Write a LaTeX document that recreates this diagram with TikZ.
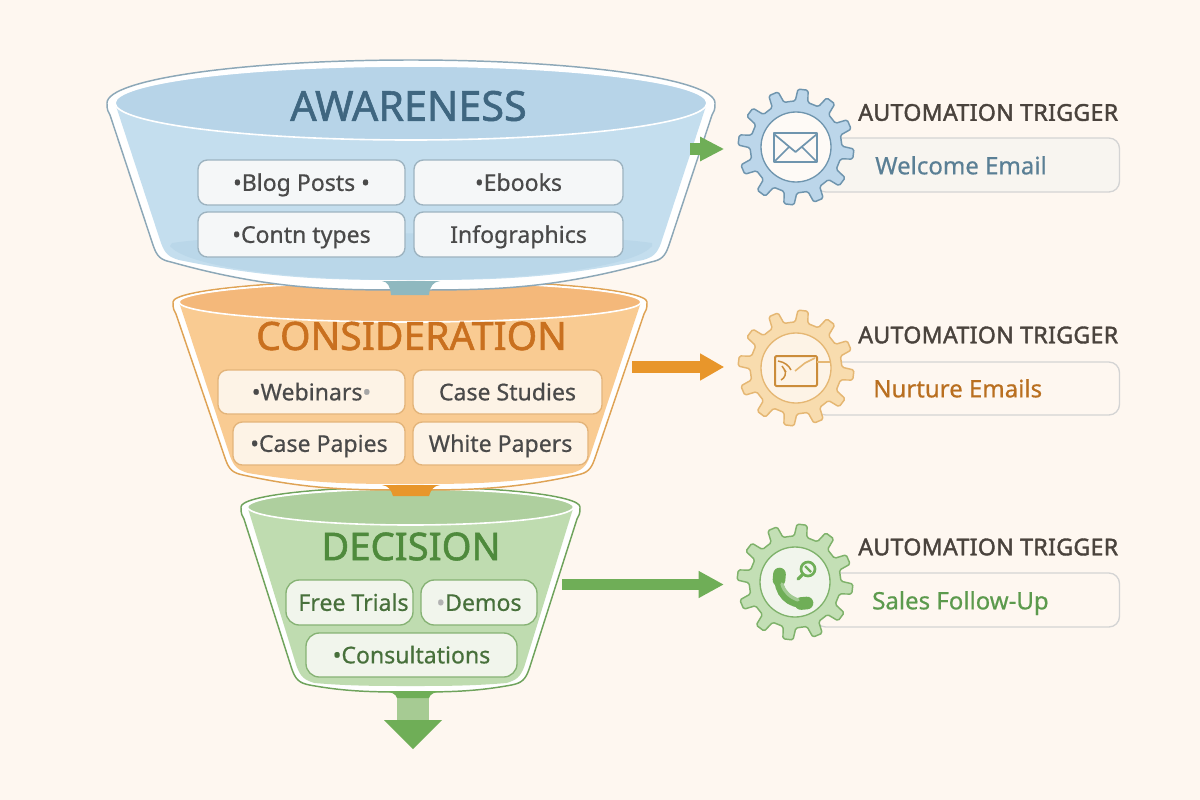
\documentclass[tikz,border=0pt]{standalone}
\usepackage{fontspec}
\setmainfont{Noto Sans}
\newfontfamily\semibold[FakeBold=1.6,LetterSpace=1.2]{Noto Sans}
\newfontfamily\titleface[FakeBold=1.4]{Noto Sans}
\newfontfamily\itemface[FakeBold=0.6]{Noto Sans}
\usetikzlibrary{arrows.meta}
\definecolor{bgc}{HTML}{FEF7F0}
\definecolor{txtgray}{HTML}{4A4A4A}
\definecolor{bluebody}{HTML}{C4DEEE}
\definecolor{blueell}{HTML}{B7D4E8}
\definecolor{blueline}{HTML}{8DA8B8}
\definecolor{bluepale}{HTML}{BAD7E9}
\definecolor{bluetxt}{HTML}{3F6680}
\definecolor{bluesub}{HTML}{5A7F95}
\definecolor{bluegear}{HTML}{BCD6EA}
\definecolor{bluegearl}{HTML}{6F95AE}
\definecolor{bluestem}{HTML}{8FB8BF}
\definecolor{blueitem}{HTML}{F5F7F8}
\definecolor{blueiteml}{HTML}{9DB3C0}
\definecolor{orbody}{HTML}{F9CB92}
\definecolor{orell}{HTML}{F4B87A}
\definecolor{orline}{HTML}{DFA355}
\definecolor{ortxt}{HTML}{C9701F}
\definecolor{orsub}{HTML}{B96F20}
\definecolor{orgear}{HTML}{F8DCAE}
\definecolor{orgearl}{HTML}{E5B773}
\definecolor{orstem}{HTML}{E8962B}
\definecolor{oritem}{HTML}{FDF3E6}
\definecolor{oriteml}{HTML}{E3B47A}
\definecolor{grbody}{HTML}{BFDCB0}
\definecolor{grell}{HTML}{AECF9E}
\definecolor{grline}{HTML}{6FA35C}
\definecolor{grtxt}{HTML}{4E8A3C}
\definecolor{grsub}{HTML}{5C9A4D}
\definecolor{grgear}{HTML}{C3DFB5}
\definecolor{grgearl}{HTML}{7FB26B}
\definecolor{grstem}{HTML}{6FAE57}
\definecolor{grshaft}{HTML}{A6CB93}
\definecolor{gritem}{HTML}{F1F5EC}
\definecolor{griteml}{HTML}{86B274}
\definecolor{gritemt}{HTML}{47703B}
\definecolor{trigtxt}{HTML}{4A433D}
\definecolor{trigfirst}{HTML}{F8F5F0}
\newcommand\fsz[1]{\fontsize{#1}{#1}\selectfont}
\tikzset{
  itembox/.style={rounded corners=7pt,inner sep=0pt,line width=1pt,text=txtgray,font=\itemface\fsz{17.3},text height=13pt,text depth=0.5pt},
  funneltitle/.style={inner sep=0pt},
  triggerbox/.style={rounded corners=8pt,draw=black!17,fill=#1,line width=1pt},
  triggertitle/.style={inner sep=0pt,anchor=west,text=trigtxt,font=\semibold\fsz{17.4}},
  triggerlabel/.style={inner sep=0pt,anchor=west,font=\itemface\fsz{18},text height=14pt,text depth=0pt},
  gearnode/.style={circle,inner sep=0pt,minimum size=86.25pt},
  hubnode/.style={circle,inner sep=0pt,minimum size=52.5pt,line width=1pt},
}
\newcommand\funnelshape[9]{%
  \def\cx{#1}\def\yy{#2}\def\Ro{#3}\def\Ri{#4}\def\ryo{#5}\def\ryi{#6}\def\bro{#7}\def\bri{#8}\def\yc{#9}\funnelrest}
\newcommand\funnelrest[5]{%
  \def\yb{#1}\def\ybi{#2}
  \draw[draw=#5,fill=white,line width=1.1pt]
    ({\cx-\Ro},\yy) .. controls ({\cx-\Ro},{\yy-.5523*\ryo}) and ({\cx-.5523*\Ro},{\yy-\ryo}) .. (\cx,{\yy-\ryo})
    .. controls ({\cx+.5523*\Ro},{\yy-\ryo}) and ({\cx+\Ro},{\yy-.5523*\ryo}) .. ({\cx+\Ro},\yy)
    .. controls ({\cx+\Ro},{\yy+8}) and ({\cx+\Ro-1},{\yy+8}) .. ({\cx+\Ro-3},{\yy+12})
    -- ({\cx+\bro+4},{\yc-12}) .. controls ({\cx+\bro},\yc) and ({\cx+\bro-4},{\yc+3}) .. ({\cx+\bro-14},{\yc+5})
    .. controls ({\cx+.55*\bro},\yb) and ({\cx+.3*\bro},\yb) .. (\cx,\yb)
    .. controls ({\cx-.3*\bro},\yb) and ({\cx-.55*\bro},\yb) .. ({\cx-\bro+14},{\yc+5})
    .. controls ({\cx-\bro+4},{\yc+3}) and ({\cx-\bro},\yc) .. ({\cx-\bro-4},{\yc-12})
    -- ({\cx-\Ro+3},{\yy+12})
    .. controls ({\cx-\Ro+1},{\yy+8}) and ({\cx-\Ro},{\yy+8}) .. cycle;
  \fill[#3]
    ({\cx-\Ri},\yy) -- ({\cx+\Ri},\yy) -- ({\cx+\bri+4},{\yc-14})
    .. controls ({\cx+\bri},{\yc-3}) and ({\cx+\bri-4},\yc) .. ({\cx+\bri-14},{\yc+3})
    .. controls ({\cx+.55*\bri},\ybi) and ({\cx+.3*\bri},\ybi) .. (\cx,\ybi)
    .. controls ({\cx-.3*\bri},\ybi) and ({\cx-.55*\bri},\ybi) .. ({\cx-\bri+14},{\yc+3})
    .. controls ({\cx-\bri+4},\yc) and ({\cx-\bri},{\yc-3}) .. ({\cx-\bri-4},{\yc-14}) -- cycle;
  \filldraw[fill=#4,draw=white,line width=1.2pt] (\cx,\yy) ellipse [x radius=\Ri,y radius=\ryi];
}
\newcommand\itemnode[8]{%
  \pgfmathsetmacro\wb{(#4-#2)*.75}\pgfmathsetmacro\hb{(#5-#3)*.75}%
  \pgfmathsetmacro\xb{(#2+#4)/2}\pgfmathsetmacro\yq{(#3+#5)/2}%
  \node[itembox,draw=#6,fill=#7,minimum width=\wb pt,minimum height=\hb pt] (#1) at (\xb,\yq) {#8};}
\newcommand\gearshape[4]{%
  \draw[fill=#3,draw=#4,line width=1.1pt,line join=round,rounded corners=1.2pt]
   ({#1+46*cos(-98)},{#2+46*sin(-98)})
   \foreach \a in {-83,-53,...,247}{
     -- ({#1+46*cos(\a-8)},{#2+46*sin(\a-8)})
     -- ({#1+58*cos(\a-5)},{#2+58*sin(\a-5)})
     -- ({#1+58*cos(\a+5)},{#2+58*sin(\a+5)})
     -- ({#1+46*cos(\a+8)},{#2+46*sin(\a+8)})
   } -- cycle;}
\begin{document}
\begin{tikzpicture}[x=0.75pt,y=-0.75pt]
\useasboundingbox (0,0) rectangle (1200,800);
\fill[bgc] (0,0) rectangle (1200,800);

% ---- Decision funnel
\funnelshape{410.5}{507}{169.5}{163}{20}{18}{115}{110}{680}{692}{686}{grbody}{grell}{grline}{}
% ---- Orange funnel and stem
\funnelshape{410}{302}{237}{231}{22}{20}{181}{176}{470}{490}{484}{orbody}{orell}{orline}{}
\fill[orstem] (382,485) .. controls (389,486) and (391,490) .. (393,496) -- (429,496) .. controls (431,490) and (433,486) .. (440,485) -- cycle;
% ---- Awareness funnel
\funnelshape{411}{103}{304}{296}{43}{37}{254}{246}{257}{290}{280}{bluebody}{blueell}{blueline}{}
\fill[bluepale] (172,243) .. controls (260,230) and (560,230) .. (652,243) -- (652,246) .. controls (640,262) and (560,280) .. (411,280) .. controls (260,280) and (182,262) .. (170,246) -- cycle;
\fill[bluestem] (382,281) .. controls (388,282) and (390,286) .. (391,295) -- (429,295) .. controls (430,286) and (433,282) .. (440,281) -- cycle;

% ---- Titles
\node[funneltitle,text=bluetxt,font=\titleface\fsz{31}] (awareness) at (408.5,106) {AWARENESS};
\node[funneltitle,text=ortxt,font=\titleface\fsz{29.3}] (consideration) at (411.5,336) {CONSIDERATION};
\node[funneltitle,text=grtxt,font=\titleface\fsz{28.7}] (decision) at (411,546.5) {DECISION};

% ---- Content boxes
\itemnode{blog}{198}{160}{405}{205}{blueiteml}{blueitem}{•Blog Posts •}
\itemnode{ebooks}{414}{160}{623}{205}{blueiteml}{blueitem}{•Ebooks}
\itemnode{contn}{198}{212}{405}{257}{blueiteml}{blueitem}{•Contn types}
\itemnode{info}{414}{212}{623}{257}{blueiteml}{blueitem}{Infographics}
\itemnode{webinars}{218}{370}{405}{414}{oriteml}{oritem}{•Webinars\textcolor{black!35}{•}}
\itemnode{casest}{413}{370}{602}{414}{oriteml}{oritem}{Case Studies}
\itemnode{casepa}{233}{422}{405}{465}{oriteml}{oritem}{•Case Papies}
\itemnode{white}{413}{422}{588}{465}{oriteml}{oritem}{White Papers}
\tikzset{itembox/.append style={rounded corners=10pt,text=gritemt}}
\itemnode{trials}{286}{580}{413}{625}{griteml}{gritem}{\hspace*{6pt}Free Trials}
\itemnode{demos}{421}{580}{537}{625}{griteml}{gritem}{\textcolor{black!30}{•}Demos}
\itemnode{consult}{306}{633}{517}{677}{griteml}{gritem}{•Consultations}

% ---- Trigger boxes, titles and labels
\draw[triggerbox=trigfirst] (815,138) rectangle (1119.5,192);
\draw[triggerbox=bgc] (815,362) rectangle (1119.5,415);
\draw[triggerbox=bgc] (815,573) rectangle (1119.5,627);
\node[triggertitle] (tt1) at (858,112.5) {AUTOMATION TRIGGER};
\node[triggertitle] (tt2) at (858,335) {AUTOMATION TRIGGER};
\node[triggertitle] (tt3) at (858,547) {AUTOMATION TRIGGER};
\node[triggerlabel,text=bluesub] (l1) at (875,165) {Welcome Email};
\node[triggerlabel,text=orsub] (l2) at (873,388) {Nurture Emails};
\node[triggerlabel,text=grsub] (l3) at (872,600) {Sales Follow-Up};

% ---- Gears
\gearshape{796}{147}{bluegear}{bluegearl}
\gearshape{796}{368}{orgear}{orgearl}
\gearshape{795}{582}{grgear}{grgearl}
\node[gearnode] (gear1) at (796,147) {};
\node[gearnode] (gear2) at (796,368) {};
\node[gearnode] (gear3) at (795,582) {};
\node[hubnode,draw=bluegearl,fill=bgc!60!white] (hub1) at (796,147) {};
\node[hubnode,draw=orgearl,fill=oritem] (hub2) at (796,368) {};
\node[hubnode,draw=grgearl,fill=gritem] (hub3) at (795,582) {};

% ---- Icons
\draw[bluegearl,line width=1.6pt,line join=round] (774,133) rectangle (817,162);
\draw[bluegearl,line width=1.3pt,line join=round] (774,134) -- (795.5,152) -- (817,134) (775,161) -- (789,147) (816,161) -- (802,147);
\draw[orstem!85!black!90!white,line width=1.5pt,line join=round,rounded corners=1pt] (775,356) rectangle (817,386);
\draw[orgearl,line width=1.2pt] (817,362) -- (831,362);
\draw[orstem!85!black!90!white,line width=1.1pt] (778,361) .. controls (785,362) and (789,366) .. (791,370) (784,369) .. controls (787,373) and (785,378) .. (781,380) (786,372) -- (782,366);
\draw[orgearl,line width=1.2pt] (795,371) -- (805,363) -- (815,358);
\draw[grstem,line width=6.5pt,line cap=round] (779.5,575) .. controls (776,592) and (790,606) .. (806,603);
\draw[grstem,line width=9.5pt,line cap=round] (779.5,574) -- (779,580) (801,603.5) -- (807,603);
\draw[grstem!65!white,line width=2.5pt,line cap=round] (782,584) .. controls (784,592) and (790,597) .. (798,600);
\draw[grstem,line width=2pt,fill=gritem] (808,569) circle [radius=7];
\draw[grstem,line width=2.4pt,line cap=round] (802.5,574.5) -- (798,579);
\fill[gritem] (811,559) -- (820,559) -- (817,567) -- cycle;
\draw[grstem,line width=1.6pt] (805,566) -- (811,572);

% ---- Arrows to the gears
\coordinate (a1) at (690,149);
\coordinate (a2) at (632,367);
\coordinate (a3) at (562,584.5);
\draw[grstem,line width=9pt,-{Triangle[length=18pt,width=17pt]},shorten >=10.5pt] (a1) -- (a1 -| gear1.west);
\draw[orstem,line width=8.5pt,-{Triangle[length=18pt,width=19pt]},shorten >=10.5pt] (a2) -- (a2 -| gear2.west);
\draw[grstem,line width=8.5pt,-{Triangle[length=19pt,width=19pt]},shorten >=10pt] (a3) -- (a3 -| gear3.west);

% ---- Exit arrow
\coordinate (exit) at (413,749);
\coordinate (exitstart) at (413,692);
\draw[grshaft,line width=24pt,shorten >=20pt] (exitstart) -- (exit);
\fill[grstem] (383,691) .. controls (392,692) and (396,694) .. (397,698) -- (429,698) .. controls (430,694) and (434,692) .. (443,691) -- cycle;
\fill[grstem] (384,720) -- (442,720) -- (exit) -- cycle;
\end{tikzpicture}
\end{document}
